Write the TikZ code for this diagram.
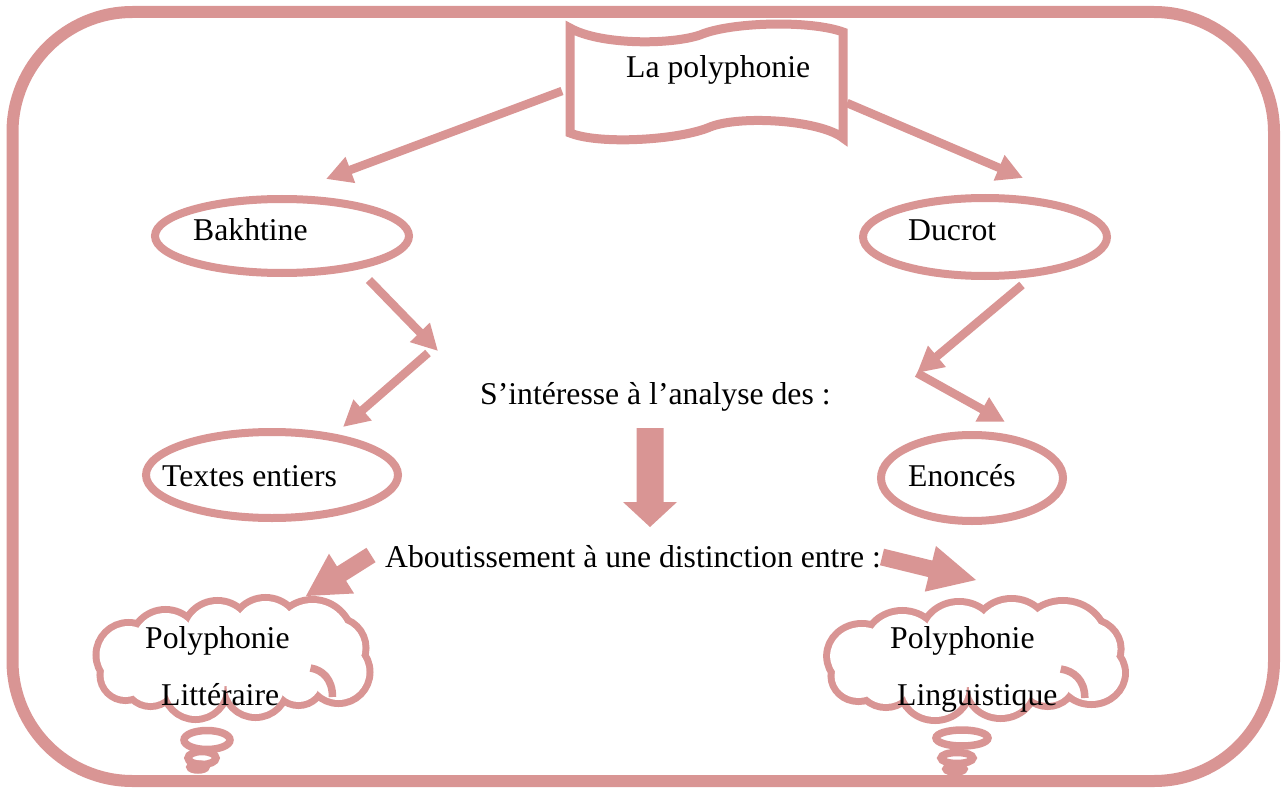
\documentclass[tikz,border=0pt]{standalone}
\usepackage{fontspec}
\setmainfont{Liberation Serif}
\usetikzlibrary{arrows.meta,calc,shapes.geometric}
\definecolor{rose}{HTML}{D99594}

% filled block arrow: #1 tail, #2 tip, #3 half shaft width, #4 half head width, #5 head length
\newcommand\blockarrow[5]{%
  \coordinate (#1-h) at ($(#2)!#5!(#1)$);
  \fill[rose] ($(#1)!#3!90:(#2)$) -- ($(#1-h)!#3!90:(#2)$) -- ($(#1-h)!#4!90:(#2)$)
    -- (#2) -- ($(#1-h)!#4!-90:(#2)$) -- ($(#1-h)!#3!-90:(#2)$) -- ($(#1)!#3!-90:(#2)$) -- cycle;}

% bumps of the thought cloud: centre x, centre y, radius
\newcommand\puffs{(-67,-14)/32, (-15,-23)/32, (33,-26)/32, (80,-19)/37, (103,-11)/27,
  (106,13)/28, (66,21)/22, (23,26)/29, (-37,28)/29, (-82,21)/23, (-107,16)/22, (-104,-4)/29}

\tikzset{
  thoughtcloud/.pic={
    \foreach \c/\r in \puffs { \draw[rose, line width=14pt] \c circle[radius=\r]; }
    \foreach \c/\r in \puffs { \fill[white] \c circle[radius=\r]; }
    \fill[white] (-67,-14) -- (-15,-23) -- (33,-26) -- (80,-19) -- (103,-11) -- (106,13)
      -- (66,21) -- (23,26) -- (-37,28) -- (-82,21) -- (-107,16) -- (-104,-4) -- cycle;
    \draw[rose, line width=7.5pt] (78,9) .. controls (90,11) and (100,20) .. (100,38);
  }}

\begin{document}
\begin{tikzpicture}[x=1pt,y=-1pt,
  oval/.style={ellipse, draw=rose, line width=8pt, fill=white, inner sep=0pt},
  link/.style={draw=rose, line width=8.5pt, -{Triangle[length=26pt,width=26pt]}},
  txt/.style={font=\fontsize{31.7pt}{38pt}\selectfont, inner sep=0pt, anchor=base west},
  bubble/.style={ellipse, draw=rose, line width=7.5pt, fill=white, inner sep=0pt}]
\useasboundingbox (0,0) rectangle (1283,789);

% frame
\draw[rose, line width=12pt, rounded corners=120pt] (12.5,12) rectangle (1274,781);

% title banner
\draw[rose, line width=9pt, fill=white, line join=miter]
  (570,28) .. controls (600,45) and (670,45) .. (700,35)
  .. controls (730,22) and (810,20) .. (843,32) -- (843,138)
  .. controls (820,120) and (740,115) .. (710,127)
  .. controls (680,140) and (600,145) .. (570,133) -- cycle;
\node[txt] (title) at (626,78) {La polyphonie};

% ellipses
\node[oval, minimum width=254pt, minimum height=74pt] (bakhtine) at (282,236) {};
\node[oval, minimum width=244pt, minimum height=78pt] (ducrot) at (985,237) {};
\node[oval, minimum width=252pt, minimum height=86pt] (textes) at (272,475) {};
\node[oval, minimum width=182pt, minimum height=86pt] (enonces) at (972,478) {};

\node[txt] (tb) at (193,240) {Bakhtine};
\node[txt] (td) at (908,240) {Ducrot};
\node[txt] (tt) at (162,486) {Textes entiers};
\node[txt] (te) at (908,486) {Enoncés};
\node[txt] (interest) at (480,404) {S’intéresse à l’analyse des :};
\node[txt] (result) at (385,567) {Aboutissement à une distinction entre :};

% connector ends
\coordinate (bl) at (562,91);
\coordinate (br) at (847,103);
\coordinate (bkin) at (326,179);
\coordinate (dcin) at (1023,178);
\coordinate (bkout) at (369,280);
\coordinate (midL) at (438,351);
\coordinate (midLs) at (428,353);
\coordinate (txin) at (343,427);
\coordinate (dcout) at (1022,285);
\coordinate (midR) at (917,373);
\coordinate (enin) at (1005,422);

\draw[link] (bl) -- (bkin);
\draw[link] (br) -- (dcin);
\draw[link] (bkout) -- (midL);
\draw[link] (midLs) -- (txin);
\draw[link] (dcout) -- (midR);
\draw[link] (midR) -- (enin);

% block arrows
\coordinate (downtail) at (650,428);
\coordinate (downtip) at (650,527);
\coordinate (lefttail) at (371,555);
\coordinate (lefttip) at (306,596);
\coordinate (righttail) at (882,557);
\coordinate (righttip) at (976,580);
\blockarrow{downtail}{downtip}{13.5pt}{27pt}{25pt}

% thought clouds with their trailing bubbles
\pic at (232.5,659) {thoughtcloud};
\pic[xscale=1.093] at (975.5,660) {thoughtcloud};
\node[bubble, minimum width=46pt, minimum height=19pt] (bl1) at (207,740) {};
\node[bubble, minimum width=28pt, minimum height=13pt] (bl2) at (202,758) {};
\node[bubble, fill=rose, minimum width=16pt, minimum height=6pt] (bl3) at (198,767) {};
\node[bubble, minimum width=52pt, minimum height=16pt] (br1) at (962,738) {};
\node[bubble, minimum width=32pt, minimum height=11pt] (br2) at (957,758) {};
\node[bubble, fill=rose, minimum width=18pt, minimum height=6pt] (br3) at (955,769) {};

\blockarrow{lefttail}{lefttip}{8.5pt}{23.5pt}{42pt}
\blockarrow{righttail}{righttip}{8.5pt}{23.5pt}{47pt}

\node[txt] (pl1) at (145,648) {Polyphonie};
\node[txt] (pl2) at (161,705) {Littéraire};
\node[txt] (pr1) at (890,648) {Polyphonie};
\node[txt] (pr2) at (897,705) {Linguistique};
\end{tikzpicture}
\end{document}
